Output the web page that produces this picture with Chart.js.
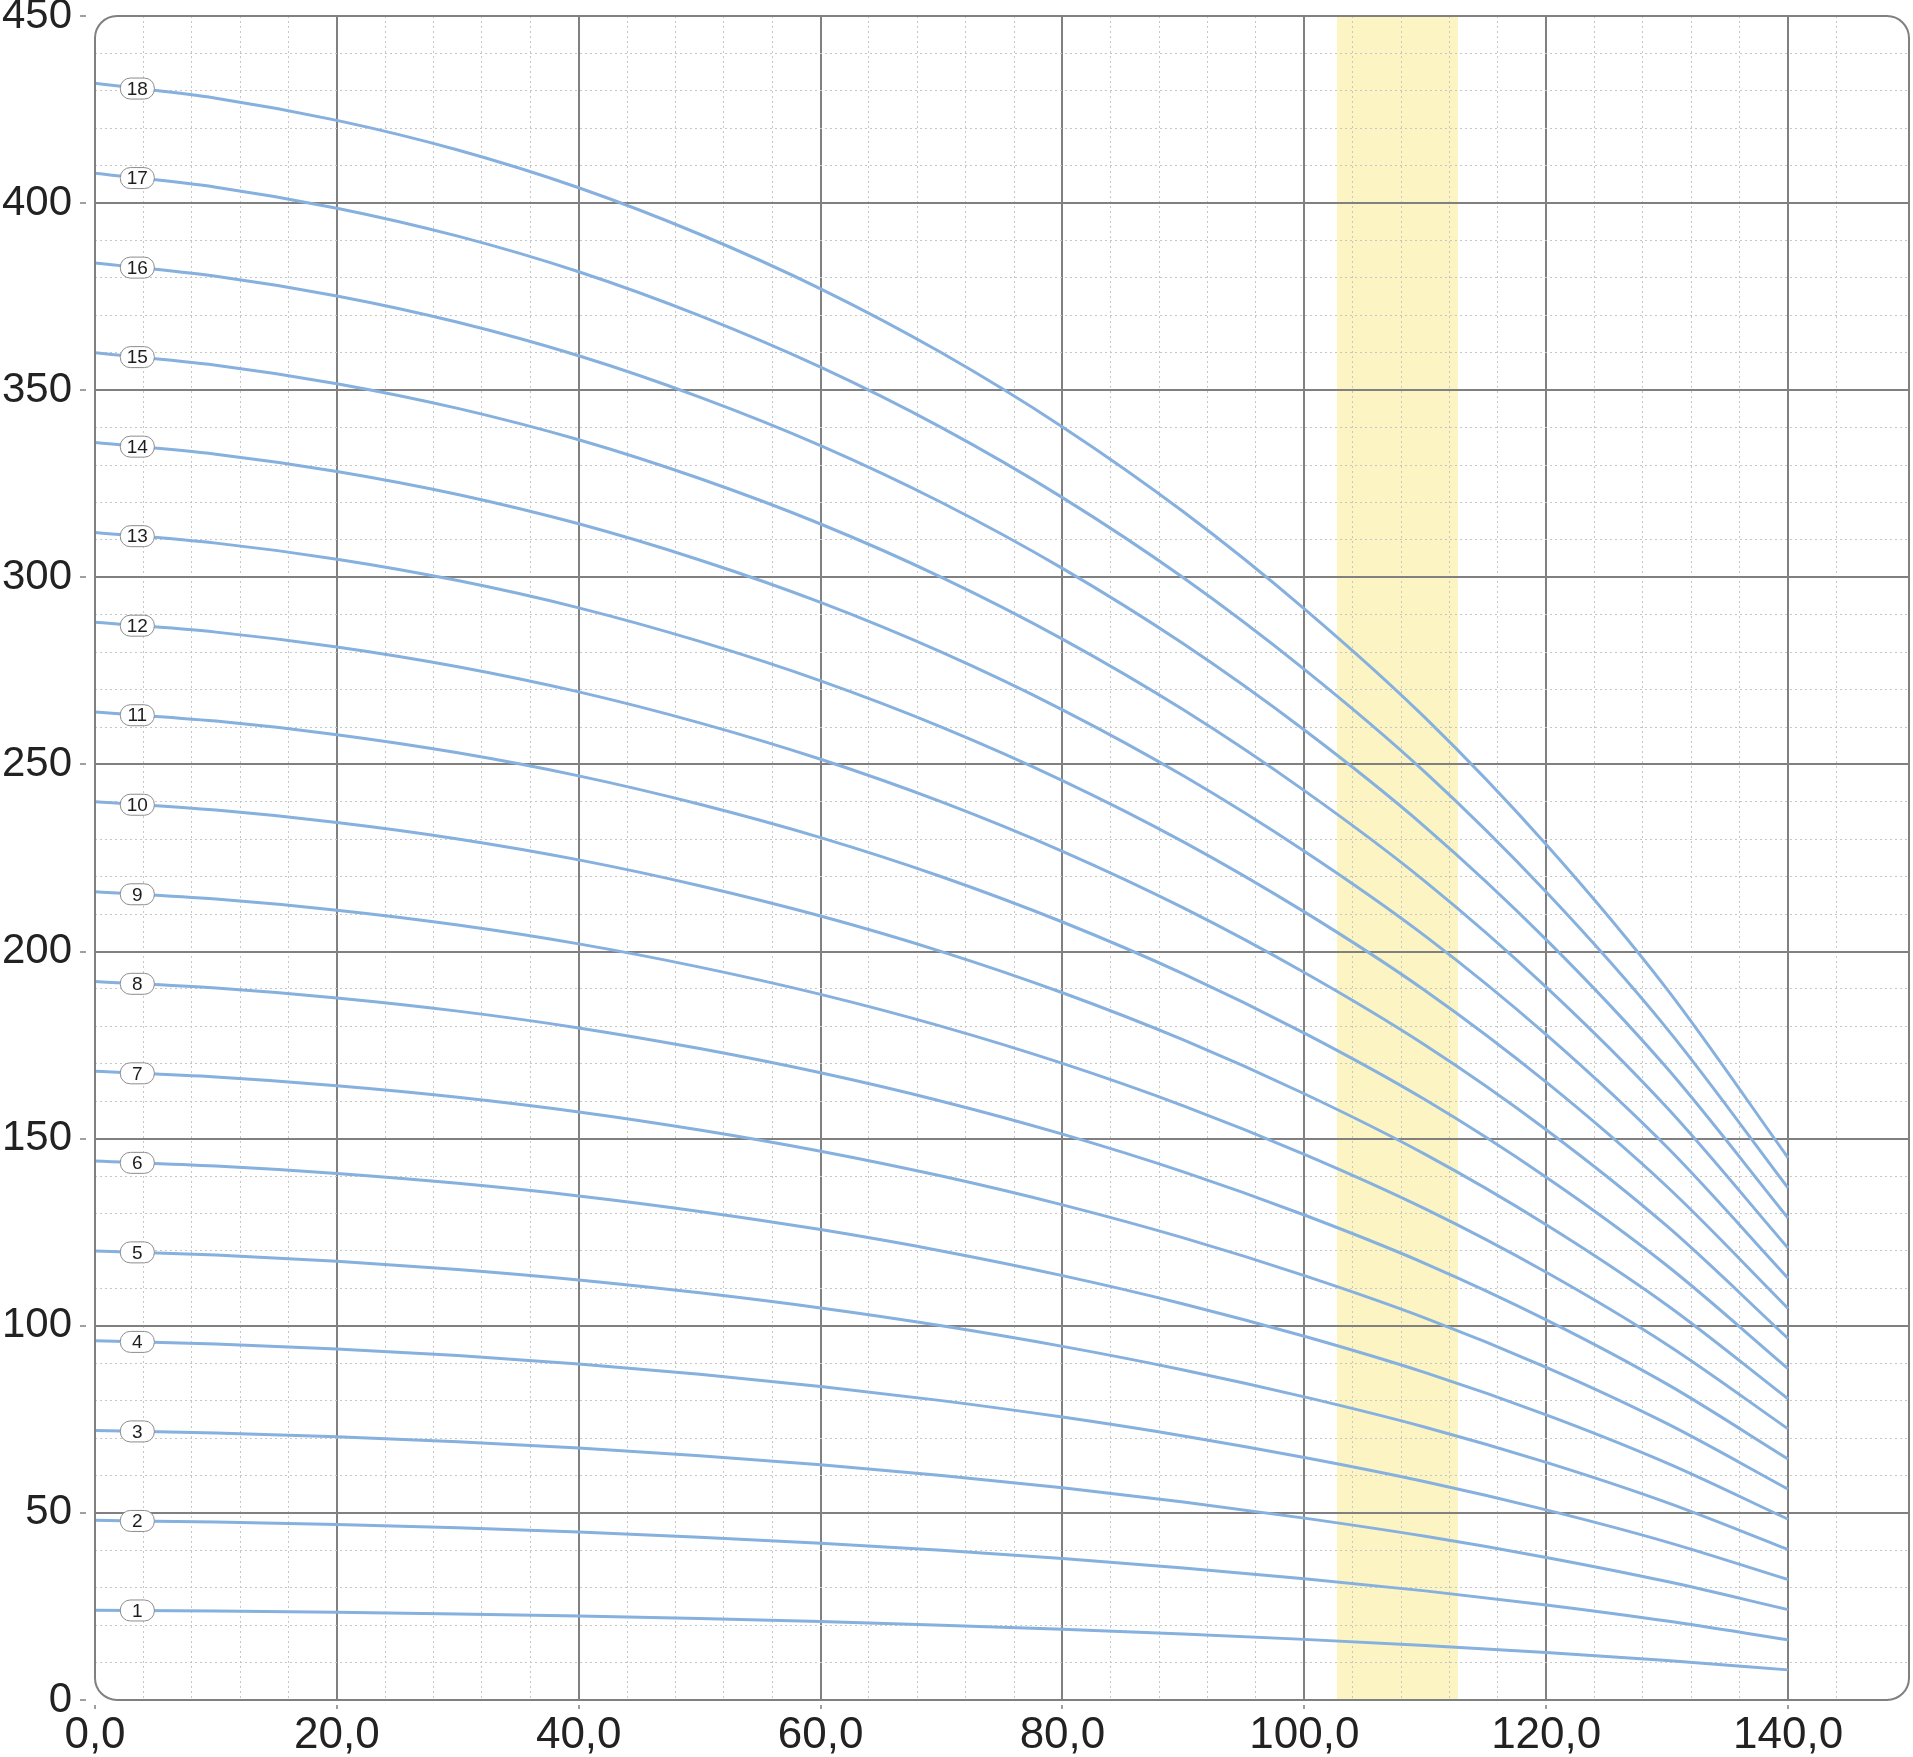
<!DOCTYPE html>
<html><head><meta charset="utf-8">
<script src="https://cdn.jsdelivr.net/npm/chart.js@4.4.1/dist/chart.umd.min.js"></script>
<style>html,body{margin:0;padding:0;background:#fff;}canvas{display:block;}</style>
</head><body>
<canvas id="c" width="1913" height="1757"></canvas>
<script>
// ---- data ----
const flow = [0, 10, 20, 30, 40, 50, 60, 70, 80, 90, 100, 110, 120, 130, 140];
const head01 = [24, 23.78, 23.45, 23.01, 22.45, 21.76, 20.95, 20.00, 18.90, 17.64, 16.20, 14.58, 12.70, 10.55, 8.05];
const head02 = [48, 47.56, 46.90, 46.02, 44.90, 43.52, 41.90, 40.00, 37.80, 35.28, 32.40, 29.16, 25.40, 21.10, 16.10];
const head03 = [72, 71.34, 70.35, 69.03, 67.35, 65.28, 62.85, 60.00, 56.70, 52.92, 48.60, 43.74, 38.10, 31.65, 24.15];
const head04 = [96, 95.12, 93.80, 92.04, 89.80, 87.04, 83.80, 80.00, 75.60, 70.56, 64.80, 58.32, 50.80, 42.20, 32.20];
const head05 = [120, 118.90, 117.25, 115.05, 112.25, 108.80, 104.75, 100.00, 94.50, 88.20, 81.00, 72.90, 63.50, 52.75, 40.25];
const head06 = [144, 142.68, 140.70, 138.06, 134.70, 130.56, 125.70, 120.00, 113.40, 105.84, 97.20, 87.48, 76.20, 63.30, 48.30];
const head07 = [168, 166.46, 164.15, 161.07, 157.15, 152.32, 146.65, 140.00, 132.30, 123.48, 113.40, 102.06, 88.90, 73.85, 56.35];
const head08 = [192, 190.24, 187.60, 184.08, 179.60, 174.08, 167.60, 160.00, 151.20, 141.12, 129.60, 116.64, 101.60, 84.40, 64.40];
const head09 = [216, 214.02, 211.05, 207.09, 202.05, 195.84, 188.55, 180.00, 170.10, 158.76, 145.80, 131.22, 114.30, 94.95, 72.45];
const head10 = [240, 237.80, 234.50, 230.10, 224.50, 217.60, 209.50, 200.00, 189.00, 176.40, 162.00, 145.80, 127.00, 105.50, 80.50];
const head11 = [264, 261.58, 257.95, 253.11, 246.95, 239.36, 230.45, 220.00, 207.90, 194.04, 178.20, 160.38, 139.70, 116.05, 88.55];
const head12 = [288, 285.36, 281.40, 276.12, 269.40, 261.12, 251.40, 240.00, 226.80, 211.68, 194.40, 174.96, 152.40, 126.60, 96.60];
const head13 = [312, 309.14, 304.85, 299.13, 291.85, 282.88, 272.35, 260.00, 245.70, 229.32, 210.60, 189.54, 165.10, 137.15, 104.65];
const head14 = [336, 332.92, 328.30, 322.14, 314.30, 304.64, 293.30, 280.00, 264.60, 246.96, 226.80, 204.12, 177.80, 147.70, 112.70];
const head15 = [360, 356.70, 351.75, 345.15, 336.75, 326.40, 314.25, 300.00, 283.50, 264.60, 243.00, 218.70, 190.50, 158.25, 120.75];
const head16 = [384, 380.48, 375.20, 368.16, 359.20, 348.16, 335.20, 320.00, 302.40, 282.24, 259.20, 233.28, 203.20, 168.80, 128.80];
const head17 = [408, 404.26, 398.65, 391.17, 381.65, 369.92, 356.15, 340.00, 321.30, 299.88, 275.40, 247.86, 215.90, 179.35, 136.85];
const head18 = [432, 428.04, 422.10, 414.18, 404.10, 391.68, 377.10, 360.00, 340.20, 317.52, 291.60, 262.44, 228.60, 189.90, 144.90];
const curveLabels = ['1','2','3','4','5','6','7','8','9','10','11','12','13','14','15','16','17','18'];
const xTickValues = [0, 20, 40, 60, 80, 100, 120, 140];
const xTickLabels = ['0,0', '20,0', '40,0', '60,0', '80,0', '100,0', '120,0', '140,0'];
const yTickValues = [0, 50, 100, 150, 200, 250, 300, 350, 400, 450];
const yTickLabels = ['0', '50', '100', '150', '200', '250', '300', '350', '400', '450'];
const bandRange = [102.7, 112.7];
const labelFlow = 3.5;

const allHeads = [head01, head02, head03, head04, head05, head06, head07, head08, head09,
  head10, head11, head12, head13, head14, head15, head16, head17, head18];

// ---- styles ----
const LINE = '#86b0de';
const MAJOR = '#808080';
const MINOR = '#c6c6c6';
const FONT = "'Liberation Sans', Arial, Helvetica, sans-serif";

function findIdx(arr, v) { for (let i = 0; i < arr.length; i++) if (Math.abs(arr[i] - v) < 1e-6) return i; return -1; }
const isMajX = ctx => ctx.tick && findIdx(xTickValues, ctx.tick.value) >= 0;
const isMajY = ctx => ctx.tick && findIdx(yTickValues, ctx.tick.value) >= 0;

function roundRectPath(ctx, x, y, w, h, r) {
  ctx.moveTo(x + r, y);
  ctx.lineTo(x + w - r, y); ctx.arcTo(x + w, y, x + w, y + r, r);
  ctx.lineTo(x + w, y + h - r); ctx.arcTo(x + w, y + h, x + w - r, y + h, r);
  ctx.lineTo(x + r, y + h); ctx.arcTo(x, y + h, x, y + h - r, r);
  ctx.lineTo(x, y + r); ctx.arcTo(x, y, x + r, y, r);
  ctx.closePath();
}

const deco = {
  id: 'deco',
  beforeDraw(chart) {
    const { ctx, chartArea: a, scales: { x } } = chart;
    const x1 = x.getPixelForValue(bandRange[0]), x2 = x.getPixelForValue(bandRange[1]);
    ctx.save();
    ctx.fillStyle = '#fcf5c3';
    ctx.fillRect(x1, a.top, x2 - x1, a.bottom - a.top);
    ctx.restore();
  },
  beforeDatasetsDraw(chart) {
    const { ctx, chartArea: a } = chart;
    ctx.save();
    ctx.beginPath();
    ctx.rect(a.left - 2, a.top - 2, a.width + 4, a.height + 4);
    roundRectPath(ctx, a.left, a.top, a.width, a.height, 22);
    ctx.fillStyle = '#fff';
    ctx.fill('evenodd');
    ctx.restore();
  },
  afterDatasetsDraw(chart) {
    const { ctx, chartArea: a, scales: { x, y } } = chart;
    ctx.save();
    ctx.beginPath();
    roundRectPath(ctx, a.left, a.top, a.width, a.height, 22);
    ctx.lineWidth = 2;
    ctx.strokeStyle = MAJOR;
    ctx.stroke();
    // curve labels
    ctx.font = '19px ' + FONT;
    ctx.textAlign = 'center';
    ctx.textBaseline = 'middle';
    const f = (labelFlow - flow[0]) / (flow[1] - flow[0]);
    allHeads.forEach((h, i) => {
      const v = h[0] + (h[1] - h[0]) * f;
      const px = x.getPixelForValue(labelFlow), py = y.getPixelForValue(v);
      const w = 34, hh = 21;
      ctx.beginPath();
      roundRectPath(ctx, px - w / 2, py - hh / 2, w, hh, 10);
      ctx.fillStyle = '#fff';
      ctx.fill();
      ctx.lineWidth = 1;
      ctx.strokeStyle = '#8c8c8c';
      ctx.stroke();
      ctx.fillStyle = '#1e1e1e';
      ctx.fillText(curveLabels[i], px, py + 1);
    });
    ctx.restore();
  }
};

const datasets = allHeads.map((h, i) => ({
  label: curveLabels[i],
  data: flow.map((q, j) => ({ x: q, y: h[j] })),
  borderColor: LINE,
  borderWidth: 3,
  pointRadius: 0,
  fill: false,
  cubicInterpolationMode: 'monotone'
}));

new Chart(document.getElementById('c'), {
  type: 'line',
  data: { datasets },
  plugins: [deco],
  options: {
    responsive: false,
    animation: false,
    events: [],
    layout: { padding: { top: 16, right: 4, left: 0, bottom: 0 } },
    plugins: { legend: { display: false }, tooltip: { enabled: false } },
    scales: {
      x: {
        type: 'linear', min: 0, max: 150,
        afterFit(s) { s.height = 57; s.paddingLeft = 0; s.paddingRight = 0; },
        ticks: {
          stepSize: 4, autoSkip: false, maxRotation: 0, minRotation: 0, padding: 0,
          color: '#222', font: { family: FONT, size: 44 },
          callback: v => { const i = findIdx(xTickValues, v); return i >= 0 ? xTickLabels[i] : ''; }
        },
        grid: {
          color: ctx => isMajX(ctx) ? MAJOR : MINOR,
          lineWidth: ctx => isMajX(ctx) ? 2 : 1,
          drawTicks: true, tickLength: 9,
          tickColor: ctx => isMajX(ctx) ? MAJOR : 'rgba(0,0,0,0)',
          tickWidth: 1.5,
          tickBorderDash: [0, 5, 4, 100]
        },
        border: { display: false, dash: ctx => isMajX(ctx) ? [] : [2, 3] }
      },
      y: {
        type: 'linear', min: 0, max: 450,
        afterFit(s) { s.width = 95; s.paddingTop = 0; s.paddingBottom = 0; },
        ticks: {
          stepSize: 10, autoSkip: false, padding: 8,
          color: '#222', font: { family: FONT, size: 42 },
          callback: v => { const i = findIdx(yTickValues, v); return i >= 0 ? yTickLabels[i] : ''; }
        },
        grid: {
          color: ctx => isMajY(ctx) ? MAJOR : MINOR,
          lineWidth: ctx => isMajY(ctx) ? 2 : 1,
          drawTicks: true, tickLength: 15,
          tickColor: ctx => isMajY(ctx) ? MAJOR : 'rgba(0,0,0,0)',
          tickWidth: 1.5,
          tickBorderDash: [6, 100]
        },
        border: { display: false, dash: ctx => isMajY(ctx) ? [] : [2, 3] }
      }
    }
  }
});
</script>
</body></html>
